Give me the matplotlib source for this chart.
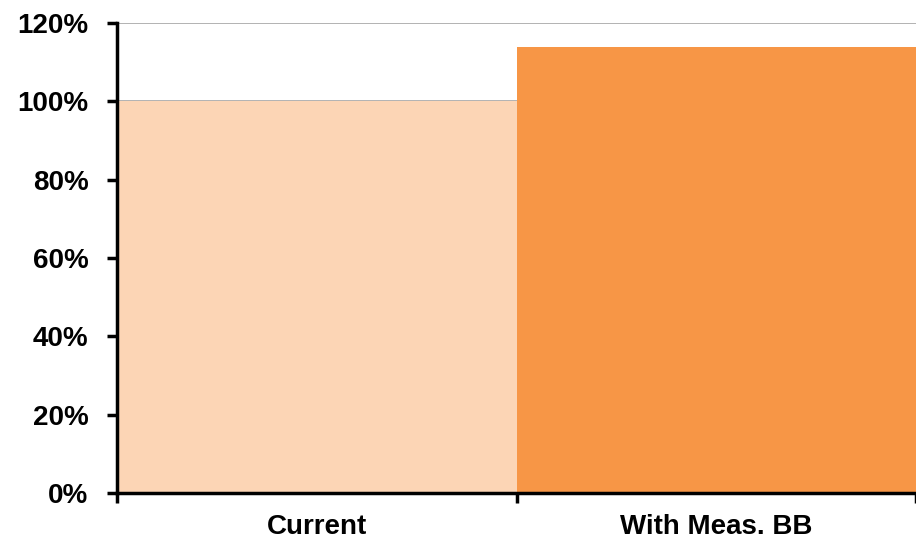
import matplotlib
matplotlib.use("Agg")
import matplotlib.pyplot as plt
from matplotlib.ticker import FuncFormatter, FixedLocator

categories = ["Current", "With Meas. BB"]
values = [100, 114]
colors = ["#FCD5B5", "#F79646"]
yticks = [0, 20, 40, 60, 80, 100, 120]

plt.rcParams['font.family'] = ['Liberation Sans', 'DejaVu Sans']

fig = plt.figure(figsize=(9.16, 5.39), dpi=100)
ax = fig.add_axes([117/916, 1-493/539, 1-117/916, (493-23)/539])

x = list(range(len(categories)))
ax.bar(x, values, width=1.0, color=colors, zorder=2)

ax.set_xlim(-0.5, len(categories)-0.5)
ax.set_ylim(0, 120)
ax.set_yticks(yticks)
ax.yaxis.set_major_formatter(FuncFormatter(lambda v, p: f"{int(v)}%"))
ax.yaxis.grid(True, color="#A6A6A6", linewidth=1.2, zorder=1)
ax.set_axisbelow(True)

ax.xaxis.set_major_locator(FixedLocator([i - 0.5 for i in range(len(categories)+1)]))
ax.xaxis.set_minor_locator(FixedLocator(x))
ax.xaxis.set_major_formatter(FuncFormatter(lambda v, p: ""))
ax.set_xticklabels(categories, minor=True)
ax.tick_params(axis='x', which='minor', length=0, pad=15, labelsize=20)
ax.tick_params(axis='x', which='major', length=7, width=2.5, direction='out')
ax.tick_params(axis='y', length=7, width=2.5, direction='out', labelsize=20, pad=13.5)
for lbl in ax.get_xticklabels(minor=True) + ax.get_yticklabels():
    lbl.set_fontweight('bold')

for s in ['top', 'right']:
    ax.spines[s].set_visible(False)
for s in ['left', 'bottom']:
    ax.spines[s].set_linewidth(2.5)
    ax.spines[s].set_color('black')
    ax.spines[s].set_zorder(3)

fig.savefig("out.png", dpi=100)
